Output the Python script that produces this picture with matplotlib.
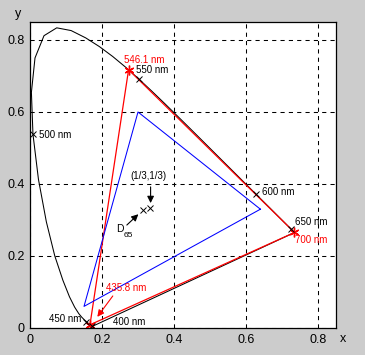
import matplotlib
matplotlib.use("Agg")
import matplotlib.pyplot as plt

plt.rcParams['font.family'] = ['Liberation Sans', 'DejaVu Sans']

# CIE 1931 spectral locus, 380-700 nm in 5 nm steps
wavelengths = list(range(380, 705, 5))
locus_x = [0.1741, 0.1740, 0.1738, 0.1736, 0.1733, 0.1730, 0.1726, 0.1721, 0.1714, 0.1703,
           0.1689, 0.1669, 0.1644, 0.1611, 0.1566, 0.1510, 0.1440, 0.1355, 0.1241, 0.1096,
           0.0913, 0.0687, 0.0454, 0.0235, 0.0082, 0.0039, 0.0139, 0.0389, 0.0743, 0.1142,
           0.1547, 0.1929, 0.2296, 0.2658, 0.3016, 0.3373, 0.3731, 0.4087, 0.4441, 0.4788,
           0.5125, 0.5448, 0.5752, 0.6029, 0.6270, 0.6482, 0.6658, 0.6801, 0.6915, 0.7006,
           0.7079, 0.7140, 0.7190, 0.7230, 0.7260, 0.7283, 0.7300, 0.7311, 0.7320, 0.7327,
           0.7334, 0.7340, 0.7344, 0.7346, 0.7347]
locus_y = [0.0050, 0.0050, 0.0049, 0.0049, 0.0048, 0.0048, 0.0048, 0.0048, 0.0051, 0.0058,
           0.0069, 0.0086, 0.0109, 0.0138, 0.0177, 0.0227, 0.0297, 0.0399, 0.0578, 0.0868,
           0.1327, 0.2007, 0.2950, 0.4127, 0.5384, 0.6548, 0.7502, 0.8120, 0.8338, 0.8262,
           0.8059, 0.7816, 0.7543, 0.7243, 0.6923, 0.6589, 0.6245, 0.5896, 0.5547, 0.5202,
           0.4866, 0.4544, 0.4242, 0.3965, 0.3725, 0.3514, 0.3340, 0.3197, 0.3083, 0.2993,
           0.2920, 0.2859, 0.2809, 0.2770, 0.2740, 0.2717, 0.2700, 0.2689, 0.2680, 0.2673,
           0.2666, 0.2660, 0.2656, 0.2654, 0.2653]

# marked wavelengths on the locus
marked_nm = [400, 450, 500, 550, 600, 650]
marked_labels = ['400 nm', '450 nm', '500 nm', '550 nm', '600 nm', '650 nm']
marked_text_x = [0.231, 0.142, 0.026, 0.295, 0.644, 0.736]
marked_text_y = [0.018, 0.024, 0.536, 0.717, 0.379, 0.294]
marked_align = ['left', 'right', 'left', 'left', 'left', 'left']

# CIE RGB primaries
cie_rgb_labels = ['700 nm', '546.1 nm', '435.8 nm']
cie_rgb_x = [0.7347, 0.2738, 0.1666]
cie_rgb_y = [0.2653, 0.7174, 0.0089]

# sRGB primaries
srgb_x = [0.64, 0.30, 0.15]
srgb_y = [0.33, 0.60, 0.06]

# white points
equal_energy = (1 / 3, 1 / 3)
d65 = (0.3127, 0.3290)

fig = plt.figure(figsize=(3.65, 3.55), dpi=100, facecolor='#cccccc')
ax = fig.add_axes([30 / 365, 27 / 355, 306 / 365, 306 / 355])

# spectral locus + purple line
ax.plot(locus_x + [locus_x[0]], locus_y + [locus_y[0]], color='k', lw=0.75)

# CIE RGB triangle
ax.plot(cie_rgb_x + [cie_rgb_x[0]], cie_rgb_y + [cie_rgb_y[0]], color='red', lw=0.9)
ax.plot(cie_rgb_x, cie_rgb_y, linestyle='none', marker=(6, 2, 0), markersize=7,
        markeredgecolor='red', markeredgewidth=1.0)

# sRGB triangle
ax.plot(srgb_x + [srgb_x[0]], srgb_y + [srgb_y[0]], color='blue', lw=0.75)

# wavelength markers and labels
for nm, lab, tx, ty, ha in zip(marked_nm, marked_labels, marked_text_x, marked_text_y, marked_align):
    i = wavelengths.index(nm)
    ax.plot(locus_x[i], locus_y[i], 'kx', markersize=4, markeredgewidth=0.7)
    ax.text(tx, ty, lab, fontsize=7, ha=ha, va='center')

ax.text(0.261, 0.744, cie_rgb_labels[1], fontsize=7, color='red', va='center')
ax.text(0.736, 0.244, cie_rgb_labels[0], fontsize=7, color='red', va='center')
ax.text(0.210, 0.110, cie_rgb_labels[2], fontsize=7, color='red', va='center')

arrow_k = dict(arrowstyle='-|>', color='k', lw=0.8, mutation_scale=10, shrinkA=0, shrinkB=0)
arrow_r = dict(arrowstyle='-|>', color='red', lw=0.8, mutation_scale=10, shrinkA=0, shrinkB=0)
ax.annotate('', xy=(0.187, 0.031), xytext=(0.230, 0.089), arrowprops=arrow_r)

# white points
ax.plot([equal_energy[0], d65[0]], [equal_energy[1], d65[1]], 'kx', markersize=4, markeredgewidth=0.7)
ax.text(0.280, 0.423, '(1/3,1/3)', fontsize=7, va='center')
ax.annotate('', xy=(0.335, 0.347), xytext=(0.335, 0.392), arrowprops=arrow_k)
ax.text(0.239, 0.274, 'D', fontsize=7.5, va='center')
ax.text(0.259, 0.258, '65', fontsize=6, va='center')
ax.annotate('', xy=(0.301, 0.316), xytext=(0.269, 0.286), arrowprops=arrow_k)

ax.set_xlim(0, 0.85)
ax.set_ylim(0, 0.85)
ax.set_xticks([0, 0.2, 0.4, 0.6, 0.8])
ax.set_xticklabels(['0', '0.2', '0.4', '0.6', '0.8'])
ax.set_yticks([0, 0.2, 0.4, 0.6, 0.8])
ax.set_yticklabels(['0', '0.2', '0.4', '0.6', '0.8'])
ax.tick_params(length=0, labelsize=9, pad=4)
ax.grid(True, color='k', linestyle=(0, (4, 4)), linewidth=0.75)
for s in ax.spines.values():
    s.set_linewidth(0.9)

fig.text(343 / 365, 1 - 339 / 355, 'x', fontsize=9, ha='center', va='center')
fig.text(18 / 365, 1 - 14 / 355, 'y', fontsize=9, ha='center', va='center')

fig.savefig('out.png', dpi=100, facecolor=fig.get_facecolor())
